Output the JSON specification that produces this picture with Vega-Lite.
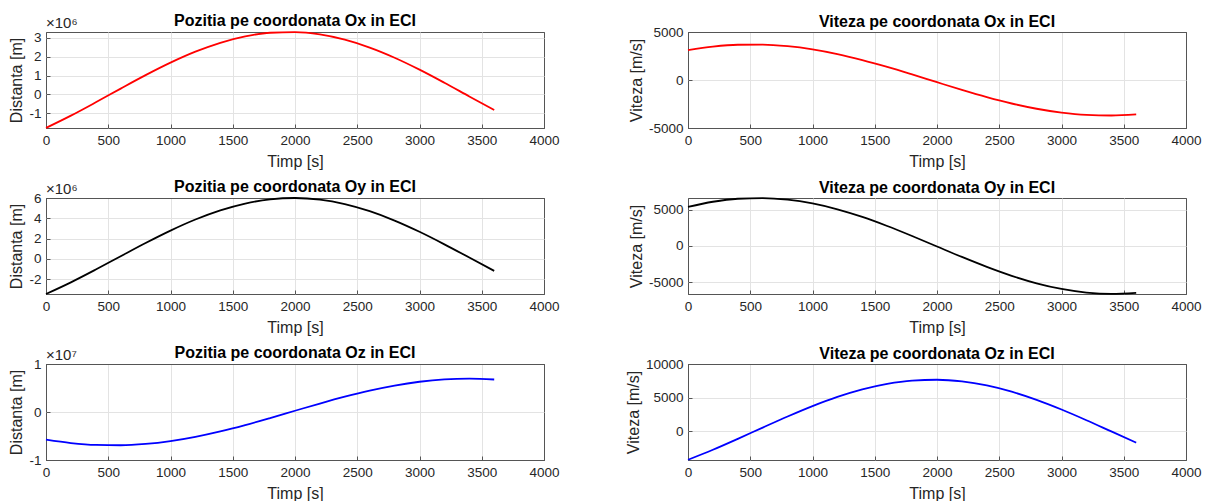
{
  "$schema": "https://vega.github.io/schema/vega-lite/v6.json",
  "padding": {"left": 8, "top": 12, "right": 5, "bottom": 0},
  "background": "white",
  "bounds": "flush",
  "columns": 2,
  "spacing": {"row": 70, "column": 144},
  "datasets": {
    "orbit": [
      {"t": 0, "px": -1776000, "py": -3478000, "pz": -5765000, "vx": 3122, "vy": 5378, "vz": -4275},
      {"t": 200, "px": -1124000, "py": -2327000, "pz": -6472000, "vx": 3480, "vy": 6084, "vz": -2784},
      {"t": 400, "px": -418000, "py": -1064000, "pz": -6866000, "vx": 3670, "vy": 6496, "vz": -1158},
      {"t": 600, "px": 309000, "py": 251000, "pz": -6930000, "vx": 3684, "vy": 6594, "vz": 522},
      {"t": 800, "px": 1021000, "py": 1553000, "pz": -6660000, "vx": 3520, "vy": 6375, "vz": 2177},
      {"t": 1000, "px": 1683000, "py": 2780000, "pz": -6069000, "vx": 3186, "vy": 5849, "vz": 3727},
      {"t": 1200, "px": 2265000, "py": 3873000, "pz": -5184000, "vx": 2698, "vy": 5040, "vz": 5098},
      {"t": 1400, "px": 2738000, "py": 4780000, "pz": -4050000, "vx": 2080, "vy": 3990, "vz": 6223},
      {"t": 1600, "px": 3077000, "py": 5456000, "pz": -2721000, "vx": 1363, "vy": 2745, "vz": 7047},
      {"t": 1800, "px": 3269000, "py": 5869000, "pz": -1261000, "vx": 580, "vy": 1370, "vz": 7533},
      {"t": 2000, "px": 3303000, "py": 6000000, "pz": 260000, "vx": -232, "vy": -73, "vz": 7655},
      {"t": 2200, "px": 3179000, "py": 5841000, "pz": 1768000, "vx": -1032, "vy": -1511, "vz": 7408},
      {"t": 2400, "px": 2901000, "py": 5400000, "pz": 3192000, "vx": -1783, "vy": -2877, "vz": 6804},
      {"t": 2600, "px": 2483000, "py": 4699000, "pz": 4460000, "vx": -2448, "vy": -4104, "vz": 5871},
      {"t": 2800, "px": 1946000, "py": 3772000, "pz": 5515000, "vx": -2994, "vy": -5133, "vz": 4658},
      {"t": 3000, "px": 1314000, "py": 2663000, "pz": 6304000, "vx": -3396, "vy": -5914, "vz": 3215},
      {"t": 3200, "px": 619000, "py": 1425000, "pz": 6790000, "vx": -3635, "vy": -6411, "vz": 1621},
      {"t": 3400, "px": -106000, "py": 119000, "pz": 6946000, "vx": -3698, "vy": -6599, "vz": -51},
      {"t": 3600, "px": -825000, "py": -1193000, "pz": 6768000, "vx": -3583, "vy": -6468, "vz": -1721}
    ]
  },
  "data": {"name": "orbit"},
  "concat": [
    {
      "width": 498, "height": 96,
      "title": {"text": "Pozitia pe coordonata Ox in ECI", "dy": 11},
      "layer": [
        {
          "mark": {"type": "line", "color": "#ff0000", "strokeWidth": 1.8, "interpolate": "monotone"},
          "encoding": {
            "x": {"field": "t", "type": "quantitative", "scale": {"domain": [0, 4000], "nice": false}, "axis": {"values": [0, 500, 1000, 1500, 2000, 2500, 3000, 3500, 4000], "title": "Timp [s]", "labelOverlap": false, "labelExpr": "'' + datum.value", "gridColor": {"condition": {"test": "datum.value == 0 || datum.value == 4000", "value": "#555555"}, "value": "#e3e3e3"}}},
            "y": {"field": "px", "type": "quantitative", "scale": {"domain": [-1780000, 3310000], "nice": false, "zero": false}, "axis": {"values": [-1000000, 0, 1000000, 2000000, 3000000], "title": "Distanta [m]", "labelOverlap": false, "labelExpr": "'' + datum.value / 1000000"}}
          }
        },
        {
          "data": {"values": [{"lbl": "×10⁶"}]},
          "mark": {"type": "text", "align": "left", "baseline": "bottom", "dy": -1, "fontSize": 15, "color": "#262626"},
          "encoding": {
            "x": {"datum": 0, "type": "quantitative", "axis": {"values": [0, 500, 1000, 1500, 2000, 2500, 3000, 3500, 4000], "title": "Timp [s]", "labelOverlap": false, "labelExpr": "'' + datum.value", "gridColor": {"condition": {"test": "datum.value == 0 || datum.value == 4000", "value": "#555555"}, "value": "#e3e3e3"}}},
            "y": {"datum": 3310000, "type": "quantitative", "axis": {"values": [-1000000, 0, 1000000, 2000000, 3000000], "title": "Distanta [m]", "labelOverlap": false, "labelExpr": "'' + datum.value / 1000000"}},
            "text": {"field": "lbl"}
          }
        }
      ]
    },
    {
      "width": 498, "height": 96,
      "title": {"text": "Viteza pe coordonata Ox in ECI", "dy": 3},
      "mark": {"type": "line", "color": "#ff0000", "strokeWidth": 1.8, "interpolate": "monotone"},
      "encoding": {
        "x": {"field": "t", "type": "quantitative", "scale": {"domain": [0, 4000], "nice": false}, "axis": {"values": [0, 500, 1000, 1500, 2000, 2500, 3000, 3500, 4000], "title": "Timp [s]", "labelOverlap": false, "labelExpr": "'' + datum.value", "gridColor": {"condition": {"test": "datum.value == 0 || datum.value == 4000", "value": "#555555"}, "value": "#e3e3e3"}}},
        "y": {"field": "vx", "type": "quantitative", "scale": {"domain": [-5000, 5000], "nice": false, "zero": false}, "axis": {"values": [-5000, 0, 5000], "title": "Viteza [m/s]", "labelOverlap": false, "labelExpr": "'' + datum.value", "gridColor": {"condition": {"test": "abs(datum.value) == 5000", "value": "#555555"}, "value": "#e3e3e3"}}}
      }
    },
    {
      "width": 498, "height": 96,
      "title": {"text": "Pozitia pe coordonata Oy in ECI", "dy": 11},
      "layer": [
        {
          "mark": {"type": "line", "color": "#000000", "strokeWidth": 1.8, "interpolate": "monotone"},
          "encoding": {
            "x": {"field": "t", "type": "quantitative", "scale": {"domain": [0, 4000], "nice": false}, "axis": {"values": [0, 500, 1000, 1500, 2000, 2500, 3000, 3500, 4000], "title": "Timp [s]", "labelOverlap": false, "labelExpr": "'' + datum.value", "gridColor": {"condition": {"test": "datum.value == 0 || datum.value == 4000", "value": "#555555"}, "value": "#e3e3e3"}}},
            "y": {"field": "py", "type": "quantitative", "scale": {"domain": [-3480000, 6000000], "nice": false, "zero": false}, "axis": {"values": [-2000000, 0, 2000000, 4000000, 6000000], "title": "Distanta [m]", "labelOverlap": false, "labelExpr": "'' + datum.value / 1000000", "gridColor": {"condition": {"test": "datum.value == 6000000", "value": "#555555"}, "value": "#e3e3e3"}}}
          }
        },
        {
          "data": {"values": [{"lbl": "×10⁶"}]},
          "mark": {"type": "text", "align": "left", "baseline": "bottom", "dy": -1, "fontSize": 15, "color": "#262626"},
          "encoding": {
            "x": {"datum": 0, "type": "quantitative", "axis": {"values": [0, 500, 1000, 1500, 2000, 2500, 3000, 3500, 4000], "title": "Timp [s]", "labelOverlap": false, "labelExpr": "'' + datum.value", "gridColor": {"condition": {"test": "datum.value == 0 || datum.value == 4000", "value": "#555555"}, "value": "#e3e3e3"}}},
            "y": {"datum": 6000000, "type": "quantitative", "axis": {"values": [-2000000, 0, 2000000, 4000000, 6000000], "title": "Distanta [m]", "labelOverlap": false, "labelExpr": "'' + datum.value / 1000000", "gridColor": {"condition": {"test": "datum.value == 6000000", "value": "#555555"}, "value": "#e3e3e3"}}},
            "text": {"field": "lbl"}
          }
        }
      ]
    },
    {
      "width": 498, "height": 96,
      "title": {"text": "Viteza pe coordonata Oy in ECI", "dy": 0},
      "mark": {"type": "line", "color": "#000000", "strokeWidth": 1.8, "interpolate": "monotone"},
      "encoding": {
        "x": {"field": "t", "type": "quantitative", "scale": {"domain": [0, 4000], "nice": false}, "axis": {"values": [0, 500, 1000, 1500, 2000, 2500, 3000, 3500, 4000], "title": "Timp [s]", "labelOverlap": false, "labelExpr": "'' + datum.value", "gridColor": {"condition": {"test": "datum.value == 0 || datum.value == 4000", "value": "#555555"}, "value": "#e3e3e3"}}},
        "y": {"field": "vy", "type": "quantitative", "scale": {"domain": [-6610, 6600], "nice": false, "zero": false}, "axis": {"values": [-5000, 0, 5000], "title": "Viteza [m/s]", "labelOverlap": false, "labelExpr": "'' + datum.value"}}
      }
    },
    {
      "width": 498, "height": 96,
      "title": {"text": "Pozitia pe coordonata Oz in ECI", "dy": 11},
      "layer": [
        {
          "mark": {"type": "line", "color": "#0000ff", "strokeWidth": 1.8, "interpolate": "monotone"},
          "encoding": {
            "x": {"field": "t", "type": "quantitative", "scale": {"domain": [0, 4000], "nice": false}, "axis": {"values": [0, 500, 1000, 1500, 2000, 2500, 3000, 3500, 4000], "title": "Timp [s]", "labelOverlap": false, "labelExpr": "'' + datum.value", "gridColor": {"condition": {"test": "datum.value == 0 || datum.value == 4000", "value": "#555555"}, "value": "#e3e3e3"}}},
            "y": {"field": "pz", "type": "quantitative", "scale": {"domain": [-10000000, 10000000], "nice": false, "zero": false}, "axis": {"values": [-10000000, 0, 10000000], "title": "Distanta [m]", "labelOverlap": false, "labelExpr": "'' + datum.value / 10000000", "gridColor": {"condition": {"test": "abs(datum.value) == 10000000", "value": "#555555"}, "value": "#e3e3e3"}}}
          }
        },
        {
          "data": {"values": [{"lbl": "×10⁷"}]},
          "mark": {"type": "text", "align": "left", "baseline": "bottom", "dy": -1, "fontSize": 15, "color": "#262626"},
          "encoding": {
            "x": {"datum": 0, "type": "quantitative", "axis": {"values": [0, 500, 1000, 1500, 2000, 2500, 3000, 3500, 4000], "title": "Timp [s]", "labelOverlap": false, "labelExpr": "'' + datum.value", "gridColor": {"condition": {"test": "datum.value == 0 || datum.value == 4000", "value": "#555555"}, "value": "#e3e3e3"}}},
            "y": {"datum": 10000000, "type": "quantitative", "axis": {"values": [-10000000, 0, 10000000], "title": "Distanta [m]", "labelOverlap": false, "labelExpr": "'' + datum.value / 10000000", "gridColor": {"condition": {"test": "abs(datum.value) == 10000000", "value": "#555555"}, "value": "#e3e3e3"}}},
            "text": {"field": "lbl"}
          }
        }
      ]
    },
    {
      "width": 498, "height": 96,
      "title": {"text": "Viteza pe coordonata Oz in ECI", "dy": 3},
      "mark": {"type": "line", "color": "#0000ff", "strokeWidth": 1.8, "interpolate": "monotone"},
      "encoding": {
        "x": {"field": "t", "type": "quantitative", "scale": {"domain": [0, 4000], "nice": false}, "axis": {"values": [0, 500, 1000, 1500, 2000, 2500, 3000, 3500, 4000], "title": "Timp [s]", "labelOverlap": false, "labelExpr": "'' + datum.value", "gridColor": {"condition": {"test": "datum.value == 0 || datum.value == 4000", "value": "#555555"}, "value": "#e3e3e3"}}},
        "y": {"field": "vz", "type": "quantitative", "scale": {"domain": [-4310, 10000], "nice": false, "zero": false}, "axis": {"values": [0, 5000, 10000], "title": "Viteza [m/s]", "labelOverlap": false, "labelExpr": "'' + datum.value", "gridColor": {"condition": {"test": "datum.value == 10000", "value": "#555555"}, "value": "#e3e3e3"}}}
      }
    }
  ],
  "config": {
    "font": "Liberation Sans",
    "view": {"stroke": "#555555", "strokeWidth": 1},
    "axis": {
      "labelFont": "Liberation Sans",
      "labelFontSize": 13.5,
      "labelColor": "#262626",
      "labelOverlap": false,
      "labelFlush": false,
      "titleFont": "Liberation Sans",
      "titleFontSize": 16,
      "titleFontWeight": "normal",
      "titleColor": "#262626",
      "grid": true,
      "gridColor": "#e3e3e3",
      "gridWidth": 1,
      "domain": false,
      "ticks": true,
      "tickColor": "#555555",
      "tickSize": -4
    },
    "axisX": {"labelPadding": 9, "titlePadding": 7},
    "axisY": {"labelPadding": 9, "titlePadding": 4},
    "title": {"font": "Liberation Sans", "fontSize": 16, "fontWeight": "bold", "color": "#000000", "offset": -2}
  }
}
